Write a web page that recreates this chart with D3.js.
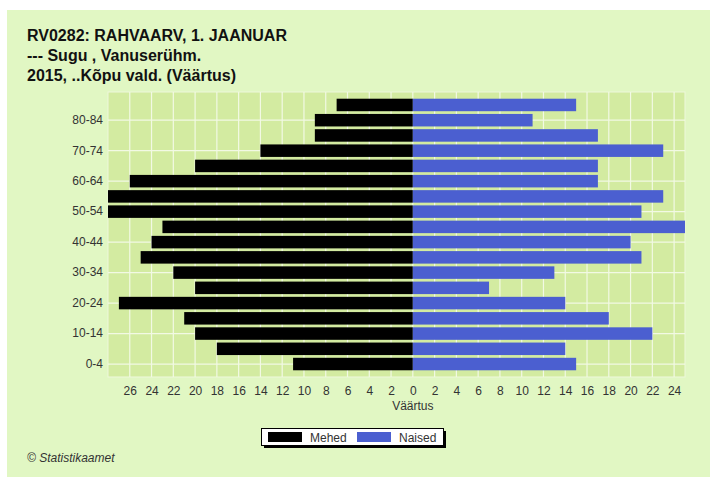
<!DOCTYPE html>
<html>
<head>
<meta charset="utf-8">
<script src="https://cdn.jsdelivr.net/npm/d3@7"></script>
<style>
  body { margin: 0; background: #fff; }
  text { font-family: Arial, "Liberation Sans", sans-serif; }
</style>
</head>
<body>
<svg id="svg" width="710" height="477"></svg>
<script>
// vanuserühmad alt üles
var ageGroups = ['0-4', '5-9', '10-14', '15-19', '20-24', '25-29', '30-34', '35-39',
    '40-44', '45-49', '50-54', '55-59', '60-64', '65-69', '70-74', '75-79', '80-84', '85+'];
var mehed = [11, 18, 20, 21, 27, 20, 22, 25, 24, 23, 28, 28, 26, 20, 14, 9, 9, 7];
var naised = [15, 14, 22, 18, 14, 7, 13, 21, 20, 25, 21, 23, 17, 17, 23, 17, 11, 15];
var xTicks = [-26, -24, -22, -20, -18, -16, -14, -12, -10, -8, -6, -4, -2,
    0, 2, 4, 6, 8, 10, 12, 14, 16, 18, 20, 22, 24];
var yLabels = ['0-4', '10-14', '20-24', '30-34', '40-44', '50-54', '60-64', '70-74', '80-84'];
var titleLines = ['RV0282: RAHVAARV, 1. JAANUAR', '--- Sugu , Vanuserühm.', '2015, ..Kõpu vald. (Väärtus)'];

var plot = { left: 108, right: 685, top: 92, bottom: 377 };
var svg = d3.select('#svg');

// taust
svg.append('rect')
    .attr('x', 7).attr('y', 10)
    .attr('width', 703).attr('height', 467)
    .attr('fill', '#e1f7c3');

svg.selectAll('text.title')
    .data(titleLines)
    .enter()
    .append('text')
    .attr('class', 'title')
    .attr('x', 27)
    .attr('y', function(d, i) { return 41 + i * 20; })
    .attr('font-size', 16)
    .attr('font-weight', 'bold')
    .attr('fill', '#111')
    .text(function(d) { return d; });

var x = d3.scaleLinear()
    .domain([-28, 25])
    .range([plot.left, plot.right]);

var y = d3.scaleBand()
    .domain(ageGroups)
    .range([plot.bottom, plot.top])
    .paddingInner(0.18)
    .paddingOuter(0.44);

svg.append('rect')
    .attr('x', plot.left).attr('y', plot.top)
    .attr('width', plot.right - plot.left)
    .attr('height', plot.bottom - plot.top)
    .attr('fill', '#d3eba1')
    .attr('stroke', '#eef8dc')
    .attr('stroke-width', 1);

// ruudustik
svg.append('g')
    .selectAll('line')
    .data(xTicks)
    .enter()
    .append('line')
    .attr('x1', function(d) { return x(d); })
    .attr('x2', function(d) { return x(d); })
    .attr('y1', plot.top)
    .attr('y2', plot.bottom)
    .attr('stroke', '#f2f9e4')
    .attr('stroke-width', 1.2);

svg.append('g')
    .selectAll('line')
    .data(yLabels)
    .enter()
    .append('line')
    .attr('x1', plot.left)
    .attr('x2', plot.right)
    .attr('y1', function(d) { return y(d) + y.bandwidth() / 2; })
    .attr('y2', function(d) { return y(d) + y.bandwidth() / 2; })
    .attr('stroke', '#f2f9e4')
    .attr('stroke-width', 1.2);

// tulbad
svg.append('g')
    .selectAll('rect')
    .data(mehed)
    .enter()
    .append('rect')
    .attr('x', function(d) { return x(-d); })
    .attr('y', function(d, i) { return y(ageGroups[i]); })
    .attr('width', function(d) { return x(0) - x(-d); })
    .attr('height', y.bandwidth())
    .attr('fill', '#000');

svg.append('g')
    .selectAll('rect')
    .data(naised)
    .enter()
    .append('rect')
    .attr('x', x(0))
    .attr('y', function(d, i) { return y(ageGroups[i]); })
    .attr('width', function(d) { return x(d) - x(0); })
    .attr('height', y.bandwidth())
    .attr('fill', '#4b5fd0');

// teljed
var xAxis = d3.axisBottom(x)
    .tickValues(xTicks)
    .tickSize(0)
    .tickPadding(8)
    .tickFormat(function(d) { return Math.abs(d); });

var gx = svg.append('g')
    .attr('transform', 'translate(0,' + (plot.bottom + 1) + ')')
    .call(xAxis);
gx.select('.domain').remove();
gx.selectAll('text')
    .attr('font-size', 12)
    .attr('font-family', 'Arial, "Liberation Sans", sans-serif')
    .attr('fill', '#333');

var yAxis = d3.axisLeft(y)
    .tickValues(yLabels)
    .tickSize(0)
    .tickPadding(5);

var gy = svg.append('g')
    .attr('transform', 'translate(' + plot.left + ',0)')
    .call(yAxis);
gy.select('.domain').remove();
gy.selectAll('text')
    .attr('font-size', 12)
    .attr('font-family', 'Arial, "Liberation Sans", sans-serif')
    .attr('fill', '#333');

svg.append('text')
    .attr('x', x(0))
    .attr('y', 410)
    .attr('text-anchor', 'middle')
    .attr('font-size', 12)
    .attr('fill', '#333')
    .text('Väärtus');

// legend
var legend = svg.append('g').attr('transform', 'translate(261,428)');
legend.append('rect')
    .attr('x', 3).attr('y', 3)
    .attr('width', 182).attr('height', 17)
    .attr('fill', '#000');
legend.append('rect')
    .attr('x', 0.5).attr('y', 0.5)
    .attr('width', 182).attr('height', 17)
    .attr('fill', '#fff')
    .attr('stroke', '#000');

var legendItems = [
    { name: 'Mehed', color: '#000', x: 7 },
    { name: 'Naised', color: '#4b5fd0', x: 96 }
];
legend.selectAll('g.item')
    .data(legendItems)
    .enter()
    .append('g')
    .attr('class', 'item')
    .each(function(d) {
        var g = d3.select(this);
        g.append('rect')
            .attr('x', d.x).attr('y', 4)
            .attr('width', 34).attr('height', 10)
            .attr('fill', d.color);
        g.append('text')
            .attr('x', d.x + 42)
            .attr('y', 13.5)
            .attr('font-size', 12)
            .attr('fill', '#333')
            .text(d.name);
    });

svg.append('text')
    .attr('x', 27)
    .attr('y', 462)
    .attr('font-size', 12)
    .attr('font-style', 'italic')
    .attr('fill', '#333')
    .text('© Statistikaamet');
</script>
</body>
</html>
